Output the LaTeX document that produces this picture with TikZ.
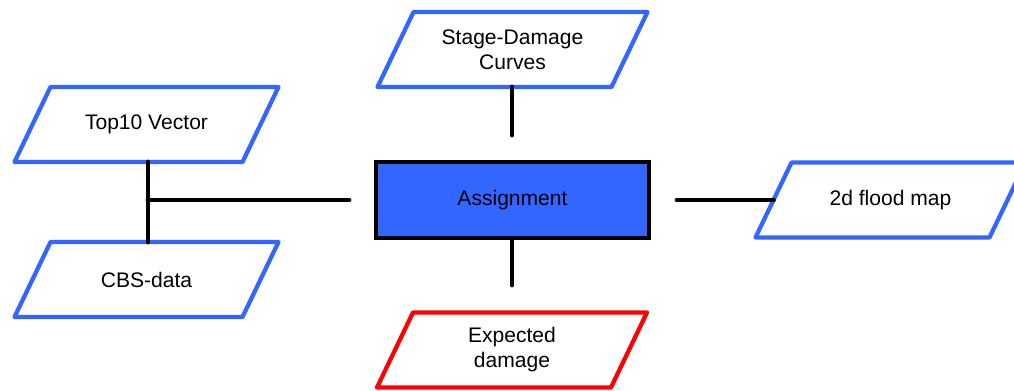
\documentclass[tikz,border=0pt]{standalone}
\usepackage{fontspec}
\setmainfont{Liberation Sans}
\usetikzlibrary{calc}
\definecolor{flowblue}{HTML}{3366FF}
\definecolor{flowred}{HTML}{FF0000}

\begin{document}
\begin{tikzpicture}[
  x=0.75pt,y=-0.75pt,
  data/.style={rectangle,align=center,minimum width=175.5pt,minimum height=56.25pt,inner sep=0pt,outer sep=0pt,font=\fontsize{15.8}{18.8}\selectfont},
  proc/.style={data,draw=black,fill=flowblue,line width=3.6pt,minimum width=204.75pt,minimum height=57pt},
  link/.style={line width=3.6pt,line cap=round}
]
  \clip (0,0) rectangle (1014,390);

  \node[data,minimum width=171pt] (top) at (146.5,124.5) {Top10 Vector};
  \node[data,minimum width=171pt] (cbs) at (146.5,279.5) {CBS-data};
  \node[data] (stage) at (512.5,49.5) {Stage-Damage\\Curves};
  \node[proc] (assign) at (512.5,200) {Assignment};
  \node[data] (flood) at (890.5,200) {2d flood map};
  \node[data] (dmg) at (512,350) {Expected\\damage};

  % data boxes as slanted outlines
  \foreach \n/\c in {top/flowblue,cbs/flowblue,stage/flowblue,flood/flowblue,dmg/flowred}
    \draw[\c,line width=3.2pt,line join=round]
      ($(\n.north west)+(18,0)$) -- ($(\n.north east)+(18,0)$)
      -- ($(\n.south east)+(-18,0)$) -- ($(\n.south west)+(-18,0)$) -- cycle;

  \coordinate (join) at (148,200);
  \coordinate (inleft) at (349,200);
  \coordinate (instage) at (512,135);
  \coordinate (outdmg) at (512,285);
  \coordinate (inflood) at (677,200);

  \draw[link] (top.south -| join) -- (cbs.north -| join);
  \draw[link] (join) -- (inleft);
  \draw[link] (stage.south -| instage) -- (instage);
  \draw[link] (assign.south -| outdmg) -- (outdmg);
  \draw[link] (inflood) -- (flood.west);
\end{tikzpicture}
\end{document}
